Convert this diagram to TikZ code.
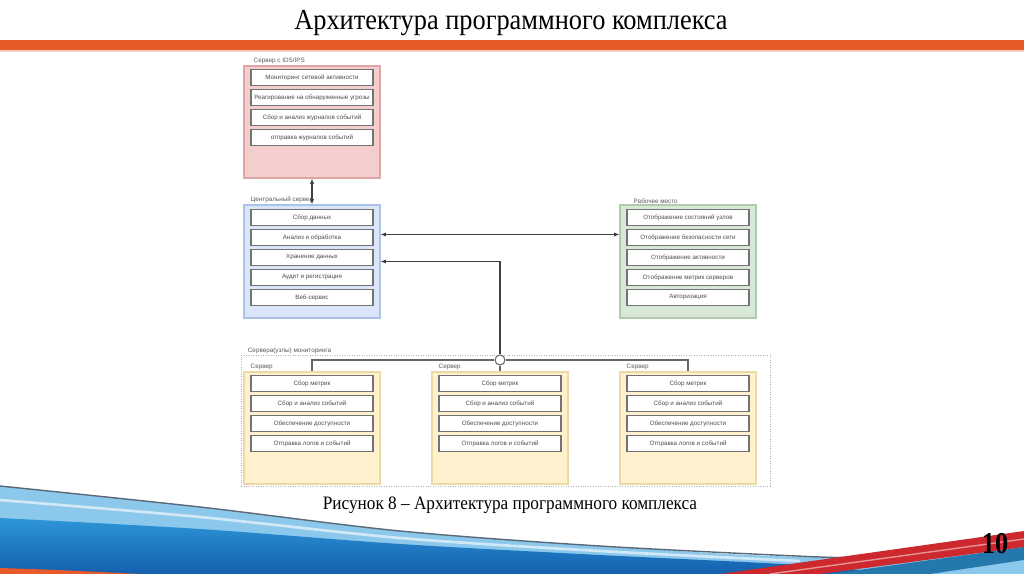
\documentclass[tikz,border=0pt]{standalone}
\usepackage{fontspec}
\setmainfont{Liberation Serif}
\newfontfamily\diafont{Liberation Sans}
\usepackage{tikz}
\usetikzlibrary{positioning,arrows.meta,calc}

\definecolor{barorange}{RGB}{233,90,42}
\definecolor{idsfill}{RGB}{244,205,205}
\definecolor{idsline}{RGB}{222,165,165}
\definecolor{cenfill}{RGB}{218,230,248}
\definecolor{cenline}{RGB}{170,195,230}
\definecolor{wsfill}{RGB}{216,232,214}
\definecolor{wsline}{RGB}{175,205,170}
\definecolor{srvfill}{RGB}{255,241,205}
\definecolor{srvline}{RGB}{235,218,165}
\definecolor{swlight}{RGB}{140,200,235}
\definecolor{swtop}{RGB}{45,150,215}
\definecolor{swbot}{RGB}{20,95,175}
\definecolor{swred}{RGB}{205,40,45}
\definecolor{swedge}{RGB}{90,105,120}

\tikzset{
  zone/.style={draw, line width=0.6pt, minimum width=2.72cm, minimum height=2.24cm, inner sep=0pt},
  item/.style={draw=black!55, fill=white, line width=0.6pt, minimum width=2.44cm,
    minimum height=0.32cm, inner sep=0pt, text=black!70,
    font=\diafont\fontsize{3.55}{4.5}\selectfont},
  lbl/.style={font=\diafont\fontsize{3.6}{4.5}\selectfont, text=black!65, inner sep=0.5pt},
  link/.style={draw=black!75, line width=0.6pt},
  dbl/.style={{Latex[length=3pt,width=2.4pt]}-{Latex[length=3pt,width=2.4pt]}}
}

\begin{document}
\begin{tikzpicture}[x=0.02cm, y=-0.02cm]
  \useasboundingbox (0,0) rectangle (1024,574);
  \fill[white] (0,0) rectangle (1024,574);

  % Title and bar
  \node[font=\fontsize{15}{18}\selectfont, yscale=1.1] (title) at (511,23) {Архитектура программного комплекса};
  \fill[barorange] (0,40) rectangle (1024,50);
  \fill[barorange!30] (0,50) rectangle (1024,52);

  % Zones
  \node[zone, fill=idsfill, draw=idsline] (ids) at (312,122) {};
  \node[zone, fill=cenfill, draw=cenline, minimum height=2.26cm] (cen) at (312,261.5) {};
  \node[zone, fill=wsfill, draw=wsline, minimum height=2.26cm] (ws) at (688,261.5) {};
  \node[draw=black!30, densely dotted, minimum width=10.58cm, minimum height=2.62cm] (mon) at (505.5,420.5) {};
  \foreach \x [count=\s] in {312,500,688}
    \node[zone, fill=srvfill, draw=srvline] (srv\s) at (\x,428) {};

  % Zone labels
  \node[lbl, above right=0pt and 0.18cm of ids.north west] (idslbl) {Сервер с IDS/IPS};
  \node[lbl, above right=0pt and 0.12cm of cen.north west] (cenlbl) {Центральный сервер};
  \node[lbl, above right=0pt and 0.26cm of ws.north west] (wslbl) {Рабочее место};
  \node[lbl, above right=0pt and 0.12cm of mon.north west] (monlbl) {Сервера(узлы) мониторинга};
  \foreach \s in {1,2,3}
    \node[lbl, above right=0pt and 0.12cm of srv\s.north west] (srvlbl\s) {Сервер};

  % Inner blocks
  \foreach \t [count=\i] in {Мониторинг сетевой активности, Реагирование на обнаруженные угрозы,
      Сбор и анализ журналов событий, отправка журналов событий}
    \node[item] (ids\i) at ($(ids.north)+(0,-8+20*\i)$) {\t};
  \foreach \t [count=\i] in {Сбор данных, Анализ и обработка, Хранение данных,
      Аудит и регистрация, Веб-сервис}
    \node[item] (cen\i) at ($(cen.north)+(0,-7+20*\i)$) {\t};
  \foreach \t [count=\i] in {Отображение состояний узлов, Отображение безопасности сети,
      Отображение активности, Отображение метрик серверов, Авторизация}
    \node[item] (ws\i) at ($(ws.north)+(0,-7+20*\i)$) {\t};
  \foreach \s in {1,2,3}
    \foreach \t [count=\i] in {Сбор метрик, Сбор и анализ событий, Обеспечение доступности,
        Отправка логов и событий}
      \node[item] (srv\s-\i) at ($(srv\s.north)+(0,-8+20*\i)$) {\t};

  % Links
  \draw[link, dbl] (ids.south) -- (cen.north);
  \draw[link, dbl] ([yshift=0.54cm]cen.east) -- ([yshift=0.54cm]ws.west);
  \node[circle, draw=black!60, fill=white, line width=0.6pt, minimum size=0.2cm, inner sep=0pt] (hub) at (500,360) {};
  \draw[link, -{Latex[length=3pt,width=2.4pt]}] (hub.north) |- (cen.east);
  \draw[link, draw=black!60] (hub.west) -| (srv1.north);
  \draw[link, draw=black!60] (hub.east) -| (srv3.north);
  \draw[link, draw=black!60] (hub.south) -- (srv2.north);

  % Caption and page number
  \node[font=\fontsize{9.8}{12}\selectfont, yscale=1.1] (caption) at (510,505) {Рисунок 8 – Архитектура программного комплекса};

  % Bottom swoosh
  \fill[swlight] plot[smooth] coordinates {(0,486) (200,507) (400,531) (600,546) (820,557) (1024,545)}
    -- (1024,574) -- (0,574) -- cycle;
  \draw[white, opacity=0.6, line width=1.5pt] plot[smooth] coordinates {(0,500) (200,517) (400,538) (600,551) (800,561)};
  \shade[top color=swtop, bottom color=swbot] plot[smooth] coordinates {(0,518) (200,529) (400,544) (600,555) (800,565) (900,574)}
    -- (0,574) -- cycle;
  \fill[barorange] (0,568) .. controls (60,570) .. (140,574) -- (0,574) -- cycle;
  \draw[swedge, line width=0.8pt] plot[smooth] coordinates {(0,486) (200,507) (400,531) (600,546) (820,557) (900,558)};
  \fill[swtop!80!black] (830,574) -- (1024,547) -- (1024,560) -- (930,574) -- cycle;
  \fill[swred] (720,574) -- (1024,531) -- (1024,547) -- (820,574) -- cycle;
  \draw[white, opacity=0.5, line width=0.8pt] (770,574) -- (1024,539);
  \node[font=\bfseries\fontsize{15}{18}\selectfont, yscale=1.15] (pagenum) at (995,544) {10};
\end{tikzpicture}
\end{document}
